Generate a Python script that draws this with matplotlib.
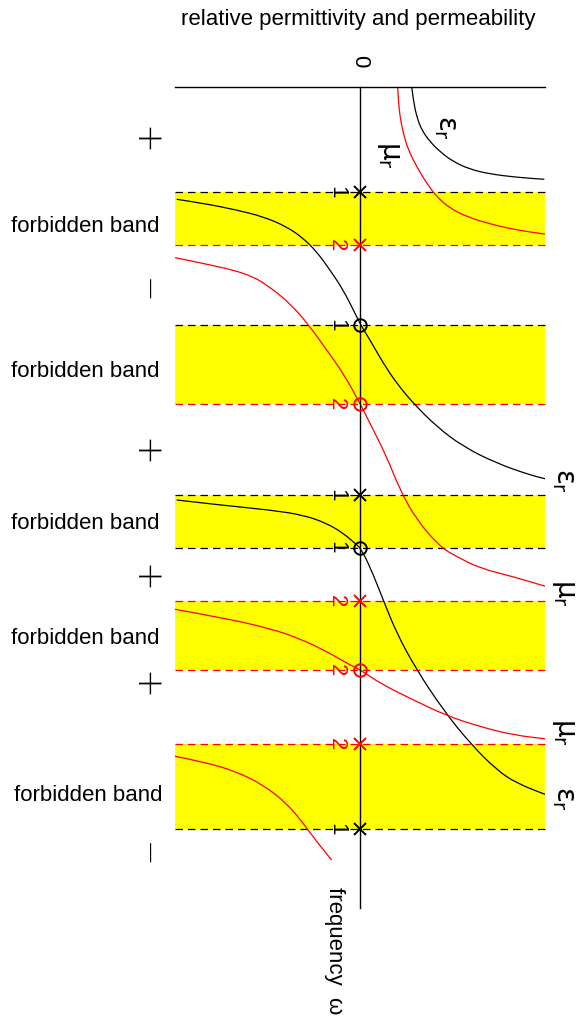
import matplotlib
matplotlib.use("Agg")
import matplotlib.pyplot as plt
from matplotlib.patches import Rectangle, PathPatch
from matplotlib.path import Path

plt.rcParams['font.family'] = ['Liberation Sans', 'DejaVu Sans']
plt.rcParams['mathtext.fontset'] = 'custom'
plt.rcParams['mathtext.rm'] = 'DejaVu Sans'
plt.rcParams['mathtext.it'] = 'DejaVu Sans'

# ---------------- data (frequency axis downward, value axis horizontal) ----------------
# band edge frequencies (arbitrary units), kind of marker at axis, edge index (1 = eps, 2 = mu)
edge_omega = [1.053, 1.58, 2.38, 3.173, 4.08, 4.607, 5.137, 5.83, 6.57, 7.42]
edge_marker = ['x', 'x', 'o', 'o', 'x', 'o', 'x', 'o', 'x', 'x']
edge_index = ['1', '2', '1', '2', '1', '1', '2', '2', '2', '1']
band_pairs = [(0, 1), (2, 3), (4, 5), (6, 7), (8, 9)]
band_label = 'forbidden band'
band_label_omega = [1.447, 2.897, 4.417, 5.567, 7.137]
band_label_x = [-2.745, -2.745, -2.745, -2.745, -2.72]

# sign of the product in allowed regions
sign_omega = [0.53, 2.04, 3.66, 4.92, 5.98, 7.68]
sign_text = ['+', '\u2212', '+', '+', '+', '\u2212']

# relative permittivity (black) segments
eps_A_x = [0.517, 0.533, 0.567, 0.617, 0.70, 0.80, 0.933, 1.10, 1.30, 1.567, 1.843]
eps_A_w = [0.0, 0.13, 0.297, 0.43, 0.547, 0.647, 0.747, 0.823, 0.87, 0.903, 0.923]
eps_B_x = [-1.833, -1.567, -1.233, -0.967, -0.733, -0.567, -0.433, -0.30, -0.167, -0.05,
           0.007, 0.10, 0.233, 0.367, 0.533, 0.767, 1.033, 1.367, 1.70, 1.873]
eps_B_w = [1.123, 1.163, 1.23, 1.297, 1.397, 1.513, 1.647, 1.83, 2.03, 2.263,
           2.38, 2.53, 2.763, 2.963, 3.163, 3.397, 3.597, 3.763, 3.88, 3.923]
eps_C_x = [-1.833, -1.40, -0.90, -0.567, -0.333, -0.167, -0.05, 0.007, 0.10, 0.233,
           0.367, 0.567, 0.833, 1.10, 1.367, 1.567, 1.867]
eps_C_w = [4.13, 4.18, 4.23, 4.28, 4.363, 4.463, 4.563, 4.613, 4.797, 5.13,
           5.463, 5.83, 6.23, 6.563, 6.83, 6.963, 7.08]

# relative permeability (red) segments
mu_A_x = [0.377, 0.383, 0.40, 0.433, 0.483, 0.567, 0.667, 0.767, 0.90, 1.067, 1.30, 1.567, 1.86]
mu_A_w = [0.0, 0.13, 0.297, 0.463, 0.63, 0.797, 0.963, 1.097, 1.213, 1.297, 1.37, 1.43, 1.473]
mu_B_x = [-1.867, -1.567, -1.133, -0.90, -0.667, -0.50, -0.333, -0.167, 0.0, 0.133,
          0.267, 0.40, 0.567, 0.80, 0.967, 1.20, 1.533, 1.867]
mu_B_w = [1.703, 1.763, 1.863, 1.997, 2.197, 2.397, 2.63, 2.863, 3.163, 3.43,
          3.697, 4.03, 4.33, 4.597, 4.697, 4.813, 4.897, 4.997]
mu_C_x = [-1.85, -1.40, -0.90, -0.567, -0.30, -0.10, 0.007, 0.20, 0.533, 0.867, 1.20, 1.533, 1.867]
mu_C_w = [5.223, 5.303, 5.413, 5.53, 5.663, 5.78, 5.83, 5.963, 6.13, 6.287, 6.397, 6.48, 6.52]
mu_D_x = [-1.867, -1.567, -1.233, -0.967, -0.733, -0.567, -0.433, -0.283]
mu_D_w = [6.69, 6.747, 6.847, 6.98, 7.163, 7.363, 7.547, 7.73]

# curve labels (value, frequency, text)
label_x = [0.85, 0.28, 2.03, 2.03, 2.03, 2.03]
label_w = [0.40, 0.68, 3.93, 5.06, 6.45, 7.11]
label_t = [r'$\varepsilon_r$', r'$\mu_r$', r'$\varepsilon_r$', r'$\mu_r$', r'$\mu_r$', r'$\varepsilon_r$']

# ---------------- drawing ----------------
XMIN, XMAX = -1.85, 1.85
fig = plt.figure(figsize=(5.79, 10.24), dpi=100)
ax = fig.add_axes([0, 0, 1, 1])
ax.set_xlim(-3.60, 2.19)
ax.set_ylim(9.37, -0.87)
ax.axis('off')

colmap = {'1': 'black', '2': 'red'}
FS = 16

# bands
for (lo, hi), lw_, lx in zip(band_pairs, band_label_omega, band_label_x):
    w0, w1 = edge_omega[lo], edge_omega[hi]
    ax.add_patch(Rectangle((XMIN, w0), XMAX - XMIN, w1 - w0, facecolor='#ffff00',
                           edgecolor='none', zorder=0))
    ax.text(lx, lw_, band_label, ha='center', va='baseline', fontsize=FS)

# band edge dashed lines
for w, idx in zip(edge_omega, edge_index):
    ax.plot([XMIN, XMAX], [w, w], color=colmap[idx], lw=0.9, dashes=(6, 4), zorder=1)

# axes lines
ax.plot([XMIN, XMAX], [0, 0], color='black', lw=1.0, zorder=3)
ax.plot([0, 0], [0, 8.21], color='black', lw=1.0, zorder=3)

clip = Rectangle((XMIN, -0.5), XMAX - XMIN, 9.0, transform=ax.transData, visible=False)
ax.add_patch(clip)


def smooth_curve(xs, ws, color):
    pts = list(zip(xs, ws))
    verts = [pts[0]]
    codes = [Path.MOVETO]
    for i in range(1, len(pts) - 1):
        mid = ((pts[i][0] + pts[i + 1][0]) / 2, (pts[i][1] + pts[i + 1][1]) / 2)
        verts += [pts[i], mid]
        codes += [Path.CURVE3, Path.CURVE3]
    verts.append(pts[-1])
    codes.append(Path.LINETO)
    patch = PathPatch(Path(verts, codes), facecolor='none', edgecolor=color, lw=0.9,
                      zorder=2)
    ax.add_patch(patch)
    patch.set_clip_path(clip)


for xs, ws in [(eps_A_x, eps_A_w), (eps_B_x, eps_B_w), (eps_C_x, eps_C_w)]:
    smooth_curve(xs, ws, 'black')
for xs, ws in [(mu_A_x, mu_A_w), (mu_B_x, mu_B_w), (mu_C_x, mu_C_w), (mu_D_x, mu_D_w)]:
    smooth_curve(xs, ws, 'red')

# markers on the frequency axis and index labels
for w, m, idx in zip(edge_omega, edge_marker, edge_index):
    c = colmap[idx]
    if m == 'x':
        ax.plot([0], [w], marker='x', ms=9, mew=1.4, color=c, zorder=4, linestyle='none')
    else:
        ax.plot([0], [w], marker='o', ms=9, mew=1.4, mfc='none', mec=c, zorder=4,
                linestyle='none')
    ax.text(-0.235, w, idx, color=c, rotation=-90, ha='center', va='center', fontsize=FS)

# signs
for w, s in zip(sign_omega, sign_text):
    ax.text(-2.117, w, s, rotation=-90, rotation_mode='anchor', ha='center',
            va='center_baseline', fontsize=25 if s == '+' else 22,
            family=['DejaVu Sans'], fontweight=200)

# curve labels
for x, w, t in zip(label_x, label_w, label_t):
    ax.text(x, w, t, rotation=-90, ha='center', va='center', fontsize=20)

# titles
ax.text(-0.02, -0.67, 'relative permittivity and permeability', ha='center', va='center',
        fontsize=FS)
ax.text(0, -0.26, '0', rotation=-90, ha='center', va='center', fontsize=FS)
ax.text(-0.25, 8.0, 'frequency  \u03c9', rotation=-90, ha='center', va='top', fontsize=FS)

fig.savefig('out.png', dpi=100)
